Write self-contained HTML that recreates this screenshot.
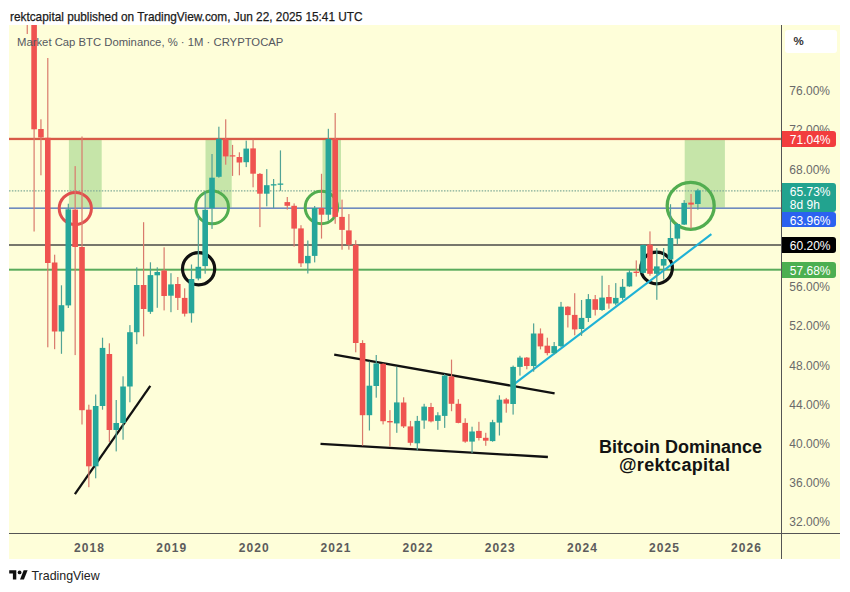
<!DOCTYPE html>
<html><head><meta charset="utf-8">
<style>
html,body{margin:0;padding:0;background:#fff;width:850px;height:592px;overflow:hidden;font-family:"Liberation Sans",sans-serif;}
.hdr{position:absolute;left:10px;top:8.5px;font-size:13px;color:#1a1a1a;white-space:nowrap;line-height:15px;transform-origin:0 0;transform:scaleX(0.909);-webkit-text-stroke:0.25px #1a1a1a;}
.chart{position:absolute;left:9px;top:25px;width:831px;height:534px;background:#fefed9;overflow:hidden;}
svg{position:absolute;left:0;top:0;}
.legend{position:absolute;left:17px;top:35.6px;font-size:11.3px;color:#55585f;white-space:nowrap;line-height:13px;}
.pl{position:absolute;left:789.3px;font-size:12px;color:#6a6a6a;line-height:14px;white-space:nowrap;}
.yl{position:absolute;top:541px;width:40px;text-align:center;font-size:12px;font-weight:bold;color:#5c5c5c;letter-spacing:1.1px;line-height:14px;}
.tag{position:absolute;left:781.5px;width:54.5px;color:#fff;font-size:12px;line-height:14px;border-radius:0 3px 3px 0;white-space:nowrap;}
.tag span{position:absolute;left:8.3px;}
.pct{position:absolute;left:785px;top:29.5px;width:51.5px;height:23px;background:#fff;border-radius:3px;}
.pct span{position:absolute;left:8.5px;top:4px;font-size:11.5px;font-weight:bold;color:#333;line-height:14px;}
.note{position:absolute;font-size:18px;font-weight:bold;color:#131313;white-space:nowrap;line-height:20px;}
.tv{position:absolute;left:31.5px;top:568.5px;font-size:12.4px;color:#222;line-height:15px;}
</style></head><body>
<div class="hdr">rektcapital published on TradingView.com, Jun 22, 2025 15:41 UTC</div>
<div style="position:absolute;left:9px;top:25px;width:831px;height:534px;background:#fefed9;"></div>
<svg width="850" height="592" viewBox="0 0 850 592">
<defs><clipPath id="cp"><rect x="9" y="25" width="772" height="508"/></clipPath></defs>
<g clip-path="url(#cp)">
<rect x="68.9" y="140" width="32.8" height="67.5" fill="#c6e5a9"/>
<rect x="205.5" y="140" width="26.2" height="67.5" fill="#c6e5a9"/>
<rect x="322.5" y="140" width="18.5" height="67.5" fill="#c6e5a9"/>
<rect x="684.7" y="140" width="40.2" height="67.5" fill="#c6e5a9"/>
<line x1="9" y1="190.9" x2="781" y2="190.9" stroke="#7faa98" stroke-width="1.2" stroke-dasharray="1.5,1.4"/>
<rect x="9" y="137.8" width="772" height="2.3" fill="#d85a48"/>
<rect x="9" y="207.5" width="772" height="1.3" fill="#4d6fb8"/>
<rect x="9" y="244.3" width="772" height="1.4" fill="#3e3e3e"/>
<rect x="9" y="268.7" width="772" height="2" fill="#5aab5c"/>
<circle cx="75.3" cy="208.5" r="16.1" fill="none" stroke="#e0504e" stroke-width="3"/>
<circle cx="212.1" cy="207.4" r="16.4" fill="none" stroke="#52ad50" stroke-width="3"/>
<circle cx="321.4" cy="207.5" r="16.2" fill="none" stroke="#52ad50" stroke-width="3"/>
<circle cx="690.7" cy="205.8" r="23.5" fill="none" stroke="#52ad50" stroke-width="3.3"/>
<circle cx="198.6" cy="268.8" r="16.1" fill="none" stroke="#111" stroke-width="3.2"/>
<circle cx="656.6" cy="268" r="15.8" fill="none" stroke="#111" stroke-width="3.2"/>
<line x1="74.9" y1="494.2" x2="150.3" y2="385.8" stroke="#111" stroke-width="2.3" stroke-linecap="butt"/>
<line x1="334.2" y1="354.6" x2="554.6" y2="393.3" stroke="#111" stroke-width="2.3" stroke-linecap="butt"/>
<line x1="320.5" y1="443.8" x2="547.9" y2="457" stroke="#111" stroke-width="2.3" stroke-linecap="butt"/>
<line x1="514.7" y1="383.6" x2="711.4" y2="234.2" stroke="#1fb2d6" stroke-width="2.1" stroke-linecap="butt"/>
<rect x="26.66" y="0.0" width="1.2" height="34.0" fill="#d97a6c"/>
<rect x="24.46" y="-50.0" width="5.6" height="60.0" fill="#ef5350"/>
<rect x="33.50" y="0.0" width="1.2" height="231.5" fill="#d97a6c"/>
<rect x="31.30" y="0.0" width="5.6" height="129.3" fill="#ef5350"/>
<rect x="40.34" y="119.3" width="1.2" height="56.0" fill="#d97a6c"/>
<rect x="38.14" y="129.0" width="5.6" height="8.5" fill="#ef5350"/>
<rect x="47.19" y="58.0" width="1.2" height="289.3" fill="#d97a6c"/>
<rect x="44.99" y="137.8" width="5.6" height="125.2" fill="#ef5350"/>
<rect x="54.03" y="254.7" width="1.2" height="94.5" fill="#d97a6c"/>
<rect x="51.83" y="262.5" width="5.6" height="69.0" fill="#ef5350"/>
<rect x="60.87" y="285.3" width="1.2" height="68.5" fill="#52a395"/>
<rect x="58.67" y="305.2" width="5.6" height="26.3" fill="#26a69a"/>
<rect x="67.72" y="203.7" width="1.2" height="104.3" fill="#52a395"/>
<rect x="65.52" y="209.3" width="5.6" height="96.1" fill="#26a69a"/>
<rect x="74.56" y="166.1" width="1.2" height="189.0" fill="#d97a6c"/>
<rect x="72.36" y="209.6" width="5.6" height="37.4" fill="#ef5350"/>
<rect x="81.40" y="136.5" width="1.2" height="288.0" fill="#d97a6c"/>
<rect x="79.20" y="247.0" width="5.6" height="163.2" fill="#ef5350"/>
<rect x="88.24" y="404.7" width="1.2" height="82.5" fill="#d97a6c"/>
<rect x="86.04" y="409.7" width="5.6" height="56.6" fill="#ef5350"/>
<rect x="95.09" y="394.5" width="1.2" height="83.8" fill="#52a395"/>
<rect x="92.89" y="406.0" width="5.6" height="60.3" fill="#26a69a"/>
<rect x="101.93" y="337.7" width="1.2" height="72.0" fill="#52a395"/>
<rect x="99.73" y="347.9" width="5.6" height="58.1" fill="#26a69a"/>
<rect x="108.77" y="343.3" width="1.2" height="98.7" fill="#d97a6c"/>
<rect x="106.57" y="354.0" width="5.6" height="76.0" fill="#ef5350"/>
<rect x="115.62" y="400.0" width="1.2" height="51.4" fill="#52a395"/>
<rect x="113.42" y="423.0" width="5.6" height="7.0" fill="#26a69a"/>
<rect x="122.46" y="376.3" width="1.2" height="63.4" fill="#52a395"/>
<rect x="120.26" y="386.5" width="5.6" height="36.5" fill="#26a69a"/>
<rect x="129.30" y="325.1" width="1.2" height="77.2" fill="#52a395"/>
<rect x="127.10" y="332.2" width="5.6" height="54.3" fill="#26a69a"/>
<rect x="136.15" y="267.3" width="1.2" height="76.9" fill="#52a395"/>
<rect x="133.94" y="285.0" width="5.6" height="47.2" fill="#26a69a"/>
<rect x="142.99" y="222.2" width="1.2" height="114.2" fill="#d97a6c"/>
<rect x="140.79" y="285.0" width="5.6" height="24.0" fill="#ef5350"/>
<rect x="149.83" y="262.3" width="1.2" height="51.6" fill="#52a395"/>
<rect x="147.63" y="275.1" width="5.6" height="36.7" fill="#26a69a"/>
<rect x="156.67" y="267.3" width="1.2" height="40.5" fill="#52a395"/>
<rect x="154.47" y="272.0" width="5.6" height="3.3" fill="#26a69a"/>
<rect x="163.52" y="247.3" width="1.2" height="63.1" fill="#d97a6c"/>
<rect x="161.32" y="270.5" width="5.6" height="25.5" fill="#ef5350"/>
<rect x="170.36" y="273.2" width="1.2" height="39.0" fill="#52a395"/>
<rect x="168.16" y="284.4" width="5.6" height="11.3" fill="#26a69a"/>
<rect x="177.20" y="277.0" width="1.2" height="33.0" fill="#d97a6c"/>
<rect x="175.00" y="284.0" width="5.6" height="13.9" fill="#ef5350"/>
<rect x="184.05" y="288.3" width="1.2" height="28.2" fill="#d97a6c"/>
<rect x="181.85" y="297.9" width="5.6" height="15.8" fill="#ef5350"/>
<rect x="190.89" y="264.5" width="1.2" height="58.1" fill="#52a395"/>
<rect x="188.69" y="279.0" width="5.6" height="34.3" fill="#26a69a"/>
<rect x="197.73" y="215.2" width="1.2" height="65.1" fill="#52a395"/>
<rect x="195.53" y="266.8" width="5.6" height="11.7" fill="#26a69a"/>
<rect x="204.57" y="191.6" width="1.2" height="82.1" fill="#52a395"/>
<rect x="202.37" y="209.8" width="5.6" height="56.3" fill="#26a69a"/>
<rect x="211.42" y="154.0" width="1.2" height="74.9" fill="#52a395"/>
<rect x="209.22" y="177.7" width="5.6" height="30.5" fill="#26a69a"/>
<rect x="218.26" y="126.7" width="1.2" height="51.0" fill="#52a395"/>
<rect x="216.06" y="138.8" width="5.6" height="38.0" fill="#26a69a"/>
<rect x="225.10" y="119.3" width="1.2" height="45.4" fill="#d97a6c"/>
<rect x="222.90" y="138.8" width="5.6" height="17.6" fill="#ef5350"/>
<rect x="231.95" y="144.9" width="1.2" height="31.0" fill="#d97a6c"/>
<rect x="229.75" y="155.3" width="5.6" height="1.2" fill="#ef5350"/>
<rect x="238.79" y="152.3" width="1.2" height="23.0" fill="#d97a6c"/>
<rect x="236.59" y="157.0" width="5.6" height="5.5" fill="#ef5350"/>
<rect x="245.63" y="140.6" width="1.2" height="26.5" fill="#52a395"/>
<rect x="243.43" y="148.6" width="5.6" height="13.6" fill="#26a69a"/>
<rect x="252.48" y="139.7" width="1.2" height="47.6" fill="#d97a6c"/>
<rect x="250.28" y="148.4" width="5.6" height="25.3" fill="#ef5350"/>
<rect x="259.32" y="173.0" width="1.2" height="54.1" fill="#d97a6c"/>
<rect x="257.12" y="173.9" width="5.6" height="19.8" fill="#ef5350"/>
<rect x="266.16" y="169.1" width="1.2" height="37.2" fill="#52a395"/>
<rect x="263.96" y="185.2" width="5.6" height="8.5" fill="#26a69a"/>
<rect x="273.00" y="179.0" width="1.2" height="29.0" fill="#52a395"/>
<rect x="270.81" y="184.2" width="5.6" height="1.3" fill="#26a69a"/>
<rect x="279.85" y="150.4" width="1.2" height="40.4" fill="#52a395"/>
<rect x="277.65" y="183.5" width="5.6" height="1.3" fill="#26a69a"/>
<rect x="286.69" y="197.0" width="1.2" height="12.6" fill="#d97a6c"/>
<rect x="284.49" y="202.1" width="5.6" height="3.7" fill="#ef5350"/>
<rect x="293.53" y="203.4" width="1.2" height="43.2" fill="#d97a6c"/>
<rect x="291.33" y="205.8" width="5.6" height="22.8" fill="#ef5350"/>
<rect x="300.38" y="225.2" width="1.2" height="41.8" fill="#d97a6c"/>
<rect x="298.18" y="228.4" width="5.6" height="34.9" fill="#ef5350"/>
<rect x="307.22" y="240.5" width="1.2" height="33.0" fill="#52a395"/>
<rect x="305.02" y="255.9" width="5.6" height="7.4" fill="#26a69a"/>
<rect x="314.06" y="206.0" width="1.2" height="56.4" fill="#52a395"/>
<rect x="311.86" y="208.0" width="5.6" height="47.9" fill="#26a69a"/>
<rect x="320.91" y="173.8" width="1.2" height="64.8" fill="#d97a6c"/>
<rect x="318.71" y="208.0" width="5.6" height="6.7" fill="#ef5350"/>
<rect x="327.75" y="128.8" width="1.2" height="91.8" fill="#52a395"/>
<rect x="325.55" y="139.0" width="5.6" height="75.7" fill="#26a69a"/>
<rect x="334.59" y="113.0" width="1.2" height="110.8" fill="#d97a6c"/>
<rect x="332.39" y="139.0" width="5.6" height="77.9" fill="#ef5350"/>
<rect x="341.44" y="199.6" width="1.2" height="50.1" fill="#d97a6c"/>
<rect x="339.24" y="216.9" width="5.6" height="13.0" fill="#ef5350"/>
<rect x="348.28" y="214.1" width="1.2" height="35.6" fill="#d97a6c"/>
<rect x="346.08" y="230.4" width="5.6" height="14.3" fill="#ef5350"/>
<rect x="355.12" y="240.2" width="1.2" height="112.1" fill="#d97a6c"/>
<rect x="352.92" y="244.8" width="5.6" height="98.2" fill="#ef5350"/>
<rect x="361.96" y="340.2" width="1.2" height="105.4" fill="#d97a6c"/>
<rect x="359.76" y="343.0" width="5.6" height="72.2" fill="#ef5350"/>
<rect x="368.81" y="361.5" width="1.2" height="69.0" fill="#52a395"/>
<rect x="366.61" y="385.7" width="5.6" height="29.5" fill="#26a69a"/>
<rect x="375.65" y="355.0" width="1.2" height="42.7" fill="#52a395"/>
<rect x="373.45" y="363.4" width="5.6" height="22.6" fill="#26a69a"/>
<rect x="382.49" y="363.5" width="1.2" height="60.9" fill="#d97a6c"/>
<rect x="380.29" y="363.8" width="5.6" height="57.4" fill="#ef5350"/>
<rect x="389.34" y="410.1" width="1.2" height="36.5" fill="#d97a6c"/>
<rect x="387.14" y="421.0" width="5.6" height="1.4" fill="#ef5350"/>
<rect x="396.18" y="366.7" width="1.2" height="66.1" fill="#52a395"/>
<rect x="393.98" y="402.4" width="5.6" height="21.0" fill="#26a69a"/>
<rect x="403.02" y="397.3" width="1.2" height="30.7" fill="#d97a6c"/>
<rect x="400.82" y="402.5" width="5.6" height="23.9" fill="#ef5350"/>
<rect x="409.87" y="420.9" width="1.2" height="24.6" fill="#d97a6c"/>
<rect x="407.67" y="426.4" width="5.6" height="16.4" fill="#ef5350"/>
<rect x="416.71" y="415.9" width="1.2" height="34.4" fill="#52a395"/>
<rect x="414.51" y="420.9" width="5.6" height="22.4" fill="#26a69a"/>
<rect x="423.55" y="403.8" width="1.2" height="25.0" fill="#52a395"/>
<rect x="421.35" y="406.6" width="5.6" height="13.9" fill="#26a69a"/>
<rect x="430.39" y="402.9" width="1.2" height="19.5" fill="#d97a6c"/>
<rect x="428.19" y="407.0" width="5.6" height="14.4" fill="#ef5350"/>
<rect x="437.24" y="412.2" width="1.2" height="17.6" fill="#52a395"/>
<rect x="435.04" y="415.3" width="5.6" height="5.6" fill="#26a69a"/>
<rect x="444.08" y="374.1" width="1.2" height="53.8" fill="#52a395"/>
<rect x="441.88" y="375.6" width="5.6" height="40.3" fill="#26a69a"/>
<rect x="450.92" y="359.6" width="1.2" height="51.6" fill="#d97a6c"/>
<rect x="448.72" y="376.5" width="5.6" height="27.3" fill="#ef5350"/>
<rect x="457.77" y="399.2" width="1.2" height="24.1" fill="#d97a6c"/>
<rect x="455.57" y="403.8" width="5.6" height="19.1" fill="#ef5350"/>
<rect x="464.61" y="418.3" width="1.2" height="24.5" fill="#d97a6c"/>
<rect x="462.41" y="422.9" width="5.6" height="18.7" fill="#ef5350"/>
<rect x="471.45" y="426.7" width="1.2" height="26.3" fill="#52a395"/>
<rect x="469.25" y="431.5" width="5.6" height="10.1" fill="#26a69a"/>
<rect x="478.30" y="421.8" width="1.2" height="18.7" fill="#d97a6c"/>
<rect x="476.10" y="430.9" width="5.6" height="7.1" fill="#ef5350"/>
<rect x="485.14" y="432.8" width="1.2" height="13.0" fill="#d97a6c"/>
<rect x="482.94" y="437.8" width="5.6" height="2.9" fill="#ef5350"/>
<rect x="491.98" y="419.8" width="1.2" height="21.9" fill="#52a395"/>
<rect x="489.78" y="422.2" width="5.6" height="18.9" fill="#26a69a"/>
<rect x="498.82" y="395.3" width="1.2" height="40.2" fill="#52a395"/>
<rect x="496.62" y="399.7" width="5.6" height="22.9" fill="#26a69a"/>
<rect x="505.67" y="397.9" width="1.2" height="14.8" fill="#d97a6c"/>
<rect x="503.47" y="399.4" width="5.6" height="4.2" fill="#ef5350"/>
<rect x="512.51" y="365.6" width="1.2" height="49.0" fill="#52a395"/>
<rect x="510.31" y="366.9" width="5.6" height="37.1" fill="#26a69a"/>
<rect x="519.35" y="355.8" width="1.2" height="19.8" fill="#52a395"/>
<rect x="517.15" y="357.6" width="5.6" height="9.3" fill="#26a69a"/>
<rect x="526.20" y="357.0" width="1.2" height="12.3" fill="#d97a6c"/>
<rect x="524.00" y="357.6" width="5.6" height="8.4" fill="#ef5350"/>
<rect x="533.04" y="323.4" width="1.2" height="48.3" fill="#52a395"/>
<rect x="530.84" y="333.5" width="5.6" height="32.5" fill="#26a69a"/>
<rect x="539.88" y="328.4" width="1.2" height="21.0" fill="#d97a6c"/>
<rect x="537.68" y="333.5" width="5.6" height="12.9" fill="#ef5350"/>
<rect x="546.73" y="337.7" width="1.2" height="17.6" fill="#d97a6c"/>
<rect x="544.53" y="345.7" width="5.6" height="7.4" fill="#ef5350"/>
<rect x="553.57" y="342.0" width="1.2" height="12.4" fill="#52a395"/>
<rect x="551.37" y="346.1" width="5.6" height="7.0" fill="#26a69a"/>
<rect x="560.41" y="301.9" width="1.2" height="45.1" fill="#52a395"/>
<rect x="558.21" y="306.7" width="5.6" height="39.4" fill="#26a69a"/>
<rect x="567.25" y="306.2" width="1.2" height="21.3" fill="#d97a6c"/>
<rect x="565.05" y="306.7" width="5.6" height="8.4" fill="#ef5350"/>
<rect x="574.10" y="293.2" width="1.2" height="42.1" fill="#d97a6c"/>
<rect x="571.90" y="314.9" width="5.6" height="14.5" fill="#ef5350"/>
<rect x="580.94" y="300.0" width="1.2" height="35.9" fill="#52a395"/>
<rect x="578.74" y="317.9" width="5.6" height="11.1" fill="#26a69a"/>
<rect x="587.78" y="294.1" width="1.2" height="27.9" fill="#52a395"/>
<rect x="585.58" y="299.1" width="5.6" height="18.9" fill="#26a69a"/>
<rect x="594.63" y="295.0" width="1.2" height="20.5" fill="#d97a6c"/>
<rect x="592.43" y="299.2" width="5.6" height="10.6" fill="#ef5350"/>
<rect x="601.47" y="275.7" width="1.2" height="35.2" fill="#52a395"/>
<rect x="599.27" y="297.6" width="5.6" height="12.4" fill="#26a69a"/>
<rect x="608.31" y="285.0" width="1.2" height="23.7" fill="#d97a6c"/>
<rect x="606.11" y="297.0" width="5.6" height="6.5" fill="#ef5350"/>
<rect x="615.15" y="283.1" width="1.2" height="22.2" fill="#52a395"/>
<rect x="612.96" y="297.9" width="5.6" height="5.6" fill="#26a69a"/>
<rect x="622.00" y="279.0" width="1.2" height="20.8" fill="#52a395"/>
<rect x="619.80" y="286.8" width="5.6" height="11.1" fill="#26a69a"/>
<rect x="628.84" y="270.1" width="1.2" height="16.7" fill="#52a395"/>
<rect x="626.64" y="272.3" width="5.6" height="14.1" fill="#26a69a"/>
<rect x="635.68" y="260.4" width="1.2" height="16.2" fill="#d97a6c"/>
<rect x="633.48" y="271.6" width="5.6" height="1.4" fill="#ef5350"/>
<rect x="642.53" y="244.5" width="1.2" height="29.3" fill="#52a395"/>
<rect x="640.33" y="245.0" width="5.6" height="27.9" fill="#26a69a"/>
<rect x="649.37" y="231.4" width="1.2" height="44.3" fill="#d97a6c"/>
<rect x="647.17" y="244.6" width="5.6" height="29.2" fill="#ef5350"/>
<rect x="656.21" y="248.0" width="1.2" height="51.8" fill="#52a395"/>
<rect x="654.01" y="266.4" width="5.6" height="7.4" fill="#26a69a"/>
<rect x="663.06" y="248.0" width="1.2" height="31.4" fill="#52a395"/>
<rect x="660.86" y="259.0" width="5.6" height="6.6" fill="#26a69a"/>
<rect x="669.90" y="204.2" width="1.2" height="55.8" fill="#52a395"/>
<rect x="667.70" y="238.0" width="5.6" height="21.4" fill="#26a69a"/>
<rect x="676.74" y="223.0" width="1.2" height="21.2" fill="#52a395"/>
<rect x="674.54" y="224.0" width="5.6" height="14.6" fill="#26a69a"/>
<rect x="683.59" y="200.1" width="1.2" height="24.9" fill="#52a395"/>
<rect x="681.39" y="202.9" width="5.6" height="21.7" fill="#26a69a"/>
<rect x="690.43" y="194.0" width="1.2" height="34.5" fill="#d97a6c"/>
<rect x="688.23" y="202.6" width="5.6" height="2.0" fill="#ef5350"/>
<rect x="697.27" y="188.8" width="1.2" height="20.9" fill="#52a395"/>
<rect x="695.07" y="190.4" width="5.6" height="13.6" fill="#26a69a"/>
</g>
<rect x="781" y="25" width="1" height="534" fill="#555"/>
<rect x="9" y="533" width="831" height="1" fill="#555"/>
</svg>
<div class="legend">Market Cap BTC Dominance, % · 1M · CRYPTOCAP</div>
<div class="pl" style="top:84.2px">76.00%</div><div class="pl" style="top:123.3px">72.00%</div><div class="pl" style="top:162.5px">68.00%</div><div class="pl" style="top:280.1px">56.00%</div><div class="pl" style="top:319.3px">52.00%</div><div class="pl" style="top:358.5px">48.00%</div><div class="pl" style="top:397.7px">44.00%</div><div class="pl" style="top:436.9px">40.00%</div><div class="pl" style="top:476.1px">36.00%</div><div class="pl" style="top:515.3px">32.00%</div>
<div class="yl" style="left:69.6px">2018</div><div class="yl" style="left:151.8px">2019</div><div class="yl" style="left:234.2px">2020</div><div class="yl" style="left:316.0px">2021</div><div class="yl" style="left:398.0px">2022</div><div class="yl" style="left:480.3px">2023</div><div class="yl" style="left:562.5px">2024</div><div class="yl" style="left:644.5px">2025</div><div class="yl" style="left:726.5px">2026</div>
<div class="tag" style="top:131.1px;height:15.7px;background:#f23d3d;"><span style="top:2.1px">71.04%</span></div>
<div class="tag" style="top:182.9px;height:28.9px;background:#22a38f;"><span style="top:2px">65.73%</span><span style="top:15.6px">8d 9h</span></div>
<div class="tag" style="top:211.8px;height:15.7px;background:#2b62f0;"><span style="top:1.8px">63.96%</span></div>
<div class="tag" style="top:237.2px;height:15.5px;background:#000;"><span style="top:2.2px">60.20%</span></div>
<div class="tag" style="top:262.2px;height:15.4px;background:#4caf50;"><span style="top:2.2px">57.68%</span></div>
<div class="pct"><span>%</span></div>
<div class="note" style="left:599px;top:437.3px;">Bitcoin Dominance</div>
<div class="note" style="left:619px;top:455px;letter-spacing:0.3px;">@rektcapital</div>
<svg width="30" height="20" style="left:0;top:565px;" viewBox="0 565 30 20">
<path d="M9.2 570.3 H16.3 V579.6 H12.9 V573.6 H9.2 Z" fill="#111"/>
<circle cx="19.6" cy="572.4" r="1.9" fill="#111"/>
<path d="M23.7 570.3 H27.6 L23.9 579.6 H20 Z" fill="#111"/>
</svg>
<div class="tv">TradingView</div>
</body></html>
